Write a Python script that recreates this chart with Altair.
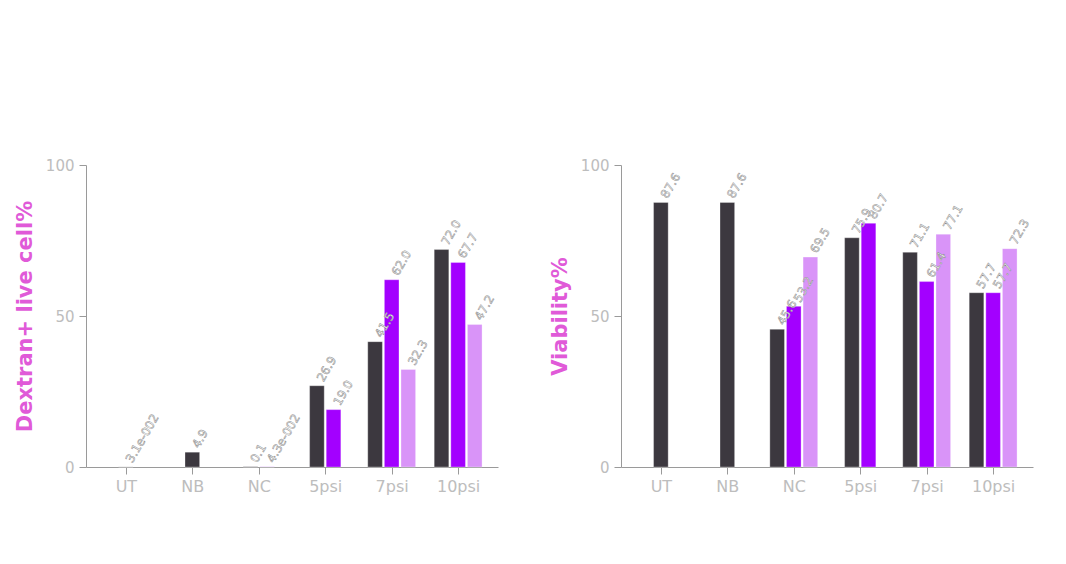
import json
import altair as alt
import pandas as pd

groups = ["UT", "NB", "NC", "5psi", "7psi", "10psi"]
series_names = ["s1", "s2", "s3"]
series_colors = ["#3c383f", "#a300ff", "#d994f8"]

dextran_s1 = [0.031, 4.9, 0.1, 26.9, 41.5, 72.0]
dextran_s2 = [None, None, 0.043, 19.0, 62.0, 67.7]
dextran_s3 = [None, None, None, None, 32.3, 47.2]
dextran_lbl1 = ["3.1e-002", "4.9", "0.1", "26.9", "41.5", "72.0"]
dextran_lbl2 = [None, None, "4.3e-002", "19.0", "62.0", "67.7"]
dextran_lbl3 = [None, None, None, None, "32.3", "47.2"]

viab_s1 = [87.6, 87.6, 45.6, 75.9, 71.1, 57.7]
viab_s2 = [None, None, 53.2, 80.7, 61.4, 57.7]
viab_s3 = [None, None, 69.5, None, 77.1, 72.3]
viab_lbl1 = ["87.6", "87.6", "45.6", "75.9", "71.1", "57.7"]
viab_lbl2 = [None, None, "53.2", "80.7", "61.4", "57.7"]
viab_lbl3 = [None, None, "69.5", None, "77.1", "72.3"]

y_ticks = [0, 50, 100]
title_left = "Dextran+ live cell%"
title_right = "Viability%"


def to_long(vals, lbls):
    rows = []
    for si, (vs, ls) in enumerate(zip(vals, lbls)):
        for gi, (v, l) in enumerate(zip(vs, ls)):
            if v is not None:
                rows.append({"gi": gi, "si": si, "series": series_names[si],
                             "value": v, "lbl": l})
    return pd.DataFrame(rows)


LABEL_EXPR = json.dumps(groups) + "[datum.value]"
AXIS_GRAY = "#9a9a9a"
LABEL_GRAY = "#bdbdbd"


def panel(df, title):
    base = alt.Chart(df).transform_window(
        rank="row_number()", groupby=["gi"], sort=[alt.SortField("si")]
    ).transform_joinaggregate(
        cnt="count()", groupby=["gi"]
    ).transform_calculate(
        pos="datum.gi + (datum.rank - (datum.cnt + 1) / 2) * 0.25",
        x0="datum.gi + (datum.rank - (datum.cnt + 1) / 2) * 0.25 - 0.11",
        x1="datum.gi + (datum.rank - (datum.cnt + 1) / 2) * 0.25 + 0.11",
    )
    xscale = alt.Scale(domain=[-0.6, 5.6], nice=False, zero=False)
    yscale = alt.Scale(domain=[0, 100], nice=False)
    xaxis = alt.Axis(values=list(range(len(groups))), labelExpr=LABEL_EXPR,
                     title=None, grid=False, tickSize=7, labelPadding=4,
                     labelFontSize=16, labelColor=LABEL_GRAY,
                     domainColor=AXIS_GRAY, tickColor=AXIS_GRAY,
                     labelFont="DejaVu Sans")
    yaxis = alt.Axis(values=y_ticks, title=title, grid=False, tickSize=7,
                     labelPadding=5, labelFontSize=15, labelColor=LABEL_GRAY,
                     domainColor=AXIS_GRAY, tickColor=AXIS_GRAY,
                     labelFont="DejaVu Sans", titleFont="DejaVu Sans",
                     titleFontSize=21, titleFontWeight="bold",
                     titleColor="#e05ad8", titlePadding=10)
    bars = base.mark_bar(stroke="white", strokeWidth=0.5, strokeOpacity=0.6).encode(
        x=alt.X("x0:Q", scale=xscale, axis=xaxis),
        x2="x1:Q",
        y=alt.Y("value:Q", scale=yscale, axis=yaxis),
        y2=alt.datum(0),
        color=alt.Color("series:N", scale=alt.Scale(domain=series_names, range=series_colors),
                        legend=None),
    )
    text = base.mark_text(angle=300, align="left", baseline="middle", dx=6,
                          fontSize=12, font="DejaVu Sans", fill="white",
                          stroke="#8a8a8a", strokeWidth=0.5).encode(
        x=alt.X("pos:Q", scale=xscale, axis=xaxis),
        y=alt.Y("value:Q", scale=yscale, axis=yaxis),
        text="lbl:N",
    )
    return alt.layer(bars, text).properties(width=412, height=302)


left = panel(to_long([dextran_s1, dextran_s2, dextran_s3],
                     [dextran_lbl1, dextran_lbl2, dextran_lbl3]), title_left)
right = panel(to_long([viab_s1, viab_s2, viab_s3],
                      [viab_lbl1, viab_lbl2, viab_lbl3]), title_right)

chart = alt.hconcat(left, right, spacing=51).properties(
    padding={"left": 6, "top": 150, "right": 5, "bottom": 5}
).configure_view(stroke=None)

chart.save("out.html", embed_options={"renderer": "svg", "actions": False})
